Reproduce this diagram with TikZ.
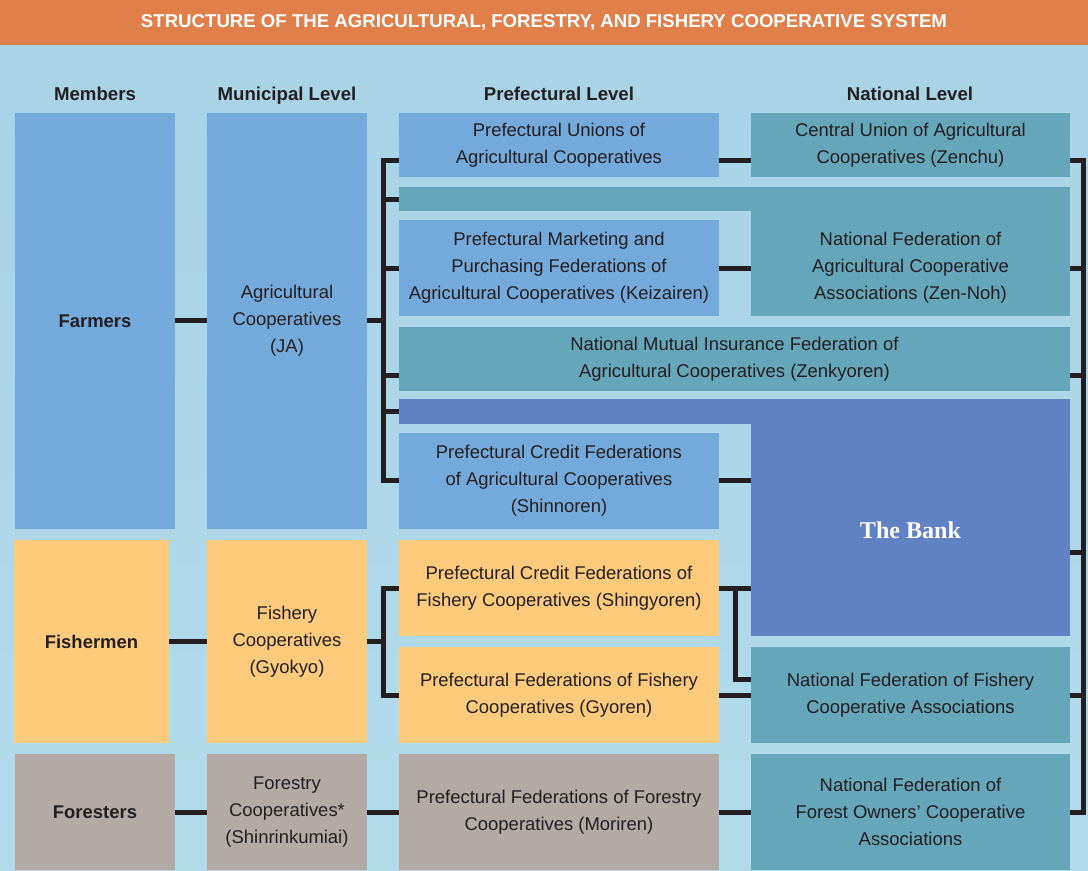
\documentclass[tikz,border=0pt]{standalone}
\usepackage{fontspec}
\setmainfont{Liberation Sans}
\newfontfamily\bankfont{Liberation Serif}

\definecolor{titleorange}{HTML}{E07F4A}
\definecolor{agriblue}{HTML}{74A9DC}
\definecolor{natteal}{HTML}{65A6BA}
\definecolor{bankblue}{HTML}{6081C2}
\definecolor{fishyellow}{HTML}{FDCB7B}
\definecolor{forestgray}{HTML}{B3A9A5}
\definecolor{ink}{HTML}{231F20}
\definecolor{skytop}{HTML}{A8D3E6}
\definecolor{skymid}{HTML}{E6F1F1}
\definecolor{skybot}{HTML}{B2DBEA}

\tikzset{
  orgbox/.style={anchor=north west, inner sep=0pt, outer sep=0pt, align=center,
    text=ink, font=\fontsize{10.5}{15.4}\selectfont},
  member/.style={orgbox, font=\fontsize{10.5}{15.4}\selectfont\bfseries},
  head/.style={anchor=base, text=ink, font=\fontsize{10.6}{12}\selectfont\bfseries},
  link/.style={draw=ink, line width=0.1cm, line join=miter},
}

\begin{document}
\begin{tikzpicture}[x=0.02cm,y=-0.02cm]
\useasboundingbox (0,0) rectangle (1088,870);
\shade[top color=skytop, middle color=skymid, bottom color=skybot] (0,0) rectangle (1088,870);

% title bar and column heads
\fill[titleorange] (0,0) rectangle (1088,45);
\node[text=white, font=\fontsize{10.6}{12}\selectfont\bfseries] (title) at (544,22)
  {STRUCTURE OF THE AGRICULTURAL, FORESTRY, AND FISHERY COOPERATIVE SYSTEM};
\node[head] (hmembers) at (95,100) {Members};
\node[head] (hmunicipal) at (287,100) {Municipal Level};
\node[head] (hprefectural) at (559,100) {Prefectural Level};
\node[head] (hnational) at (910,100) {National Level};

% members
\node[member, fill=agriblue, minimum width=3.2cm, minimum height=8.32cm] (farmers) at (15,113) {Farmers};
\node[member, fill=fishyellow, minimum width=3.1cm, minimum height=4.06cm] (fishermen) at (14,540) {Fishermen};
\node[member, fill=forestgray, minimum width=3.2cm, minimum height=2.32cm] (foresters) at (15,754) {Foresters};

% municipal level
\node[orgbox, fill=agriblue, minimum width=3.2cm, minimum height=8.32cm] (ja) at (207,113)
  {Agricultural\\Cooperatives\\(JA)};
\node[orgbox, fill=fishyellow, minimum width=3.2cm, minimum height=4.06cm] (gyokyo) at (207,540)
  {Fishery\\Cooperatives\\(Gyokyo)};
\node[orgbox, fill=forestgray, minimum width=3.2cm, minimum height=2.32cm] (shinrin) at (207,754)
  {Forestry\\Cooperatives*\\(Shinrinkumiai)};

% prefectural level (the two wide bands belong to Zen-Noh and the Bank)
\node[orgbox, fill=agriblue, minimum width=6.4cm, minimum height=1.28cm] (prefunion) at (399,113)
  {Prefectural Unions of\\Agricultural Cooperatives};
\node[orgbox, fill=natteal, minimum width=13.42cm, minimum height=0.48cm] (nohband) at (399,187) {};
\node[orgbox, fill=agriblue, minimum width=6.4cm, minimum height=1.92cm] (keizairen) at (399,220)
  {Prefectural Marketing and\\Purchasing Federations of\\Agricultural Cooperatives (Keizairen)};
\node[orgbox, fill=natteal, minimum width=13.42cm, minimum height=1.28cm] (zenkyoren) at (399,327)
  {National Mutual Insurance Federation of\\Agricultural Cooperatives (Zenkyoren)};
\node[orgbox, fill=bankblue, minimum width=13.42cm, minimum height=0.5cm] (bankband) at (399,399) {};
\node[orgbox, fill=agriblue, minimum width=6.4cm, minimum height=1.92cm] (shinnoren) at (399,433)
  {Prefectural Credit Federations\\of Agricultural Cooperatives\\(Shinnoren)};
\node[orgbox, fill=fishyellow, minimum width=6.4cm, minimum height=1.92cm] (shingyoren) at (399,540)
  {Prefectural Credit Federations of\\Fishery Cooperatives (Shingyoren)};
\node[orgbox, fill=fishyellow, minimum width=6.4cm, minimum height=1.92cm] (gyoren) at (399,647)
  {Prefectural Federations of Fishery\\Cooperatives (Gyoren)};
\node[orgbox, fill=forestgray, minimum width=6.4cm, minimum height=2.32cm] (moriren) at (399,754)
  {Prefectural Federations of Forestry\\Cooperatives (Moriren)};

% national level
\node[orgbox, fill=natteal, minimum width=6.38cm, minimum height=1.28cm] (zenchu) at (751,113)
  {Central Union of Agricultural\\Cooperatives (Zenchu)};
\node[orgbox, fill=natteal, minimum width=6.38cm, minimum height=1.92cm] (zennoh) at (751,220)
  {National Federation of\\Agricultural Cooperative\\Associations (Zen-Noh)};
\fill[natteal] (nohband.south -| zennoh.west) rectangle (zennoh.north east);
\node[orgbox, fill=bankblue, minimum width=6.38cm, minimum height=4.24cm, text=white,
  font=\bankfont\bfseries\fontsize{13.7}{16}\selectfont] (bank) at (751,424) {The Bank};
\node[orgbox, fill=natteal, minimum width=6.38cm, minimum height=1.92cm] (zengyoren) at (751,647)
  {National Federation of Fishery\\Cooperative Associations};
\node[orgbox, fill=natteal, minimum width=6.38cm, minimum height=2.32cm] (forestnat) at (751,754)
  {National Federation of\\Forest Owners’ Cooperative\\Associations};

% rows where the connectors run
\coordinate (rowunion) at (0,160);
\coordinate (rowmarket) at (0,268);
\coordinate (rowmutual) at (0,375);
\coordinate (rowcredit) at (0,480);
\coordinate (rowbank) at (0,552);
\coordinate (rowfishcredit) at (0,588);
\coordinate (rowbranch) at (0,679);
\coordinate (rowfishfed) at (0,695);
\coordinate (rowforest) at (0,812);
\coordinate (trunk) at (383,0);
\coordinate (fork) at (735,0);
\coordinate (bus) at (1083,0);

% members to municipal
\draw[link] (farmers.east) -- (ja.west);
\draw[link] (fishermen.east) -- (gyokyo.west);
\draw[link] (foresters.east) -- (shinrin.west);

% JA tree
\draw[link] (ja.east) -- (ja.east -| trunk);
\draw[link] (prefunion.west |- rowunion) -| (trunk |- rowcredit) -- (shinnoren.west |- rowcredit);
\draw[link] (trunk |- nohband.west) -- (nohband.west);
\draw[link] (trunk |- keizairen.west) -- (keizairen.west);
\draw[link] (trunk |- rowmutual) -- (zenkyoren.west |- rowmutual);
\draw[link] (trunk |- bankband.west) -- (bankband.west);

% Gyokyo tree
\draw[link] (gyokyo.east) -- (gyokyo.east -| trunk);
\draw[link] (shingyoren.west) -| (trunk |- gyoren.west) -- (gyoren.west);

% forestry
\draw[link] (shinrin.east) -- (moriren.west);
\draw[link] (moriren.east) -- (forestnat.west);

% prefectural to national
\draw[link] (prefunion.east |- rowunion) -- (zenchu.west |- rowunion);
\draw[link] (keizairen.east |- rowmarket) -- (zennoh.west |- rowmarket);
\draw[link] (shinnoren.east |- rowcredit) -- (bank.west |- rowcredit);
\draw[link] (shingyoren.east |- rowfishcredit) -- (bank.west |- rowfishcredit);
\draw[link] (fork |- rowfishcredit) |- (zengyoren.west |- rowbranch);
\draw[link] (gyoren.east |- rowfishfed) -- (zengyoren.west |- rowfishfed);

% national bus on the right
\draw[link] (zenchu.east |- rowunion) -| (bus |- rowforest) -- (forestnat.east |- rowforest);
\draw[link] (zennoh.east |- rowmarket) -- (bus |- rowmarket);
\draw[link] (zenkyoren.east |- rowmutual) -- (bus |- rowmutual);
\draw[link] (bank.east |- rowbank) -- (bus |- rowbank);
\draw[link] (zengyoren.east |- rowfishfed) -- (bus |- rowfishfed);
\end{tikzpicture}
\end{document}
